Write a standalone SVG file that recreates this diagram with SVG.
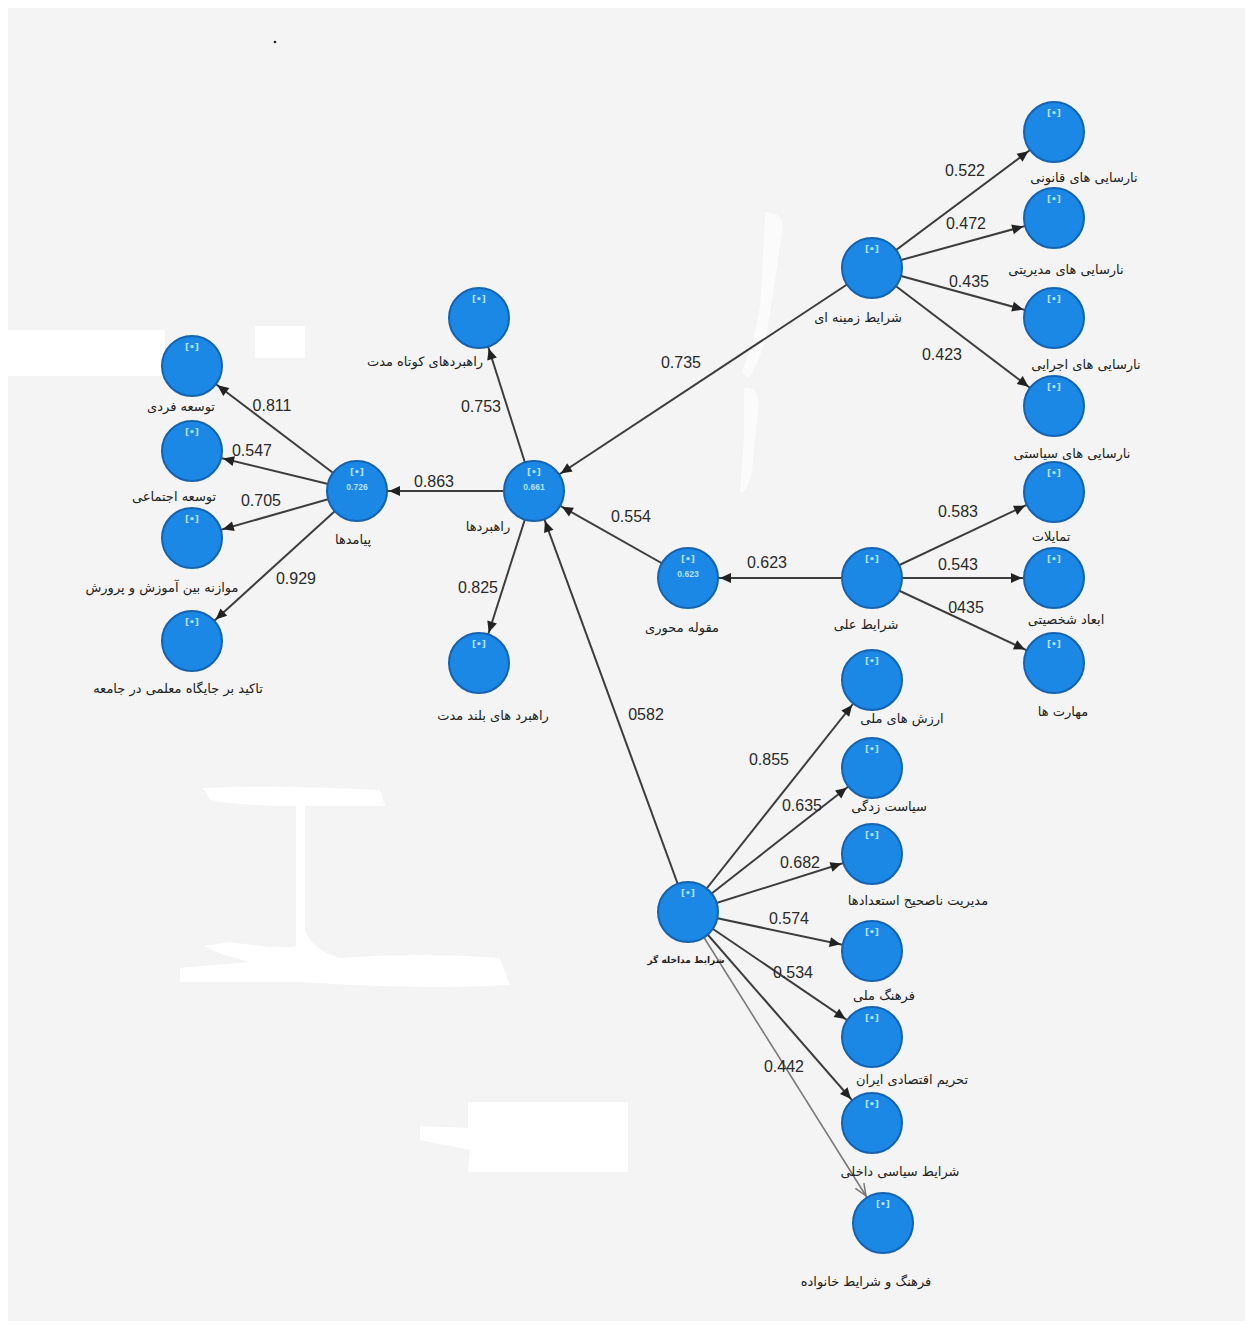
<svg xmlns="http://www.w3.org/2000/svg" width="1247" height="1326" viewBox="0 0 1247 1326">
<style>
.bg{fill:#f4f4f4}
.wb{fill:#ffffff}
.ws{fill:#fbfbfb}
.edge{stroke:#3d3d3d;stroke-width:2;fill:none;marker-end:url(#ah)}
.edge2{stroke:#7a7a7a;stroke-width:1.6;fill:none;marker-end:url(#ah2)}
.node circle{fill:#1c88e6;stroke:#1462b0;stroke-width:2}
.tag{font-family:"DejaVu Sans",sans-serif;font-size:9px;fill:#b5e2ff;text-anchor:middle;font-weight:bold}
.val{font-family:"Liberation Sans",sans-serif;font-size:8.5px;fill:#b5e2ff;text-anchor:middle;font-weight:bold}
.lbl{font-family:"DejaVu Sans","Liberation Sans",sans-serif;font-size:13px;fill:#222;text-anchor:middle}
.lbls{font-family:"DejaVu Sans","Liberation Sans",sans-serif;font-size:9px;fill:#222;text-anchor:middle;font-weight:bold}
.num{font-family:"Liberation Sans",Arial,sans-serif;font-size:16px;fill:#2a2a2a;text-anchor:middle}
</style>
<defs>
<marker id="ah" markerUnits="userSpaceOnUse" markerWidth="80" markerHeight="12" refX="73" refY="6" orient="auto" overflow="visible">
<path d="M30,1 L41,6 L30,11 Z" fill="#222"/>
</marker>
<marker id="ah2" markerUnits="userSpaceOnUse" markerWidth="80" markerHeight="12" refX="73" refY="6" orient="auto" overflow="visible">
<path d="M29,1 L41,6 L29,11" fill="none" stroke="#777" stroke-width="1.5"/>
</marker>
</defs>
<rect width="1247" height="1326" fill="#ffffff"/>
<rect class="bg" x="8" y="8" width="1237" height="1313"/>
<g id="artifacts">
<rect class="wb" x="8" y="330" width="157" height="46"/>
<rect class="wb" x="255" y="326" width="50" height="32"/>
<path class="wb" d="M203,788 Q260,784 380,790 L385,806 L305,806 L305,930 Q312,950 340,958 Q420,952 500,958 L510,985 Q420,990 300,982 L180,982 L180,968 L250,962 Q220,955 204,946 L230,942 Q285,950 296,946 L296,806 Q240,806 210,800 Z"/>
<path class="wb" d="M468,1102 L628,1102 L628,1172 L468,1172 L470,1150 L420,1140 L420,1126 L468,1128 Z"/>
<path class="ws" d="M765,212 Q785,212 782,232 L772,300 Q764,360 748,378 L742,372 Q760,330 762,280 Z"/>
<path class="ws" d="M744,388 Q760,386 758,410 L752,470 Q747,495 740,492 L744,440 Z"/>
<circle cx="275" cy="42" r="1.3" fill="#222"/>
</g>
<g id="connectors">
<line class="edge" x1="872" y1="268" x2="1054" y2="132"/>
<line class="edge" x1="872" y1="268" x2="1054" y2="218"/>
<line class="edge" x1="872" y1="268" x2="1054" y2="318"/>
<line class="edge" x1="872" y1="268" x2="1054" y2="406"/>
<line class="edge" x1="872" y1="268" x2="534" y2="491"/>
<line class="edge" x1="534" y1="491" x2="479" y2="318"/>
<line class="edge" x1="534" y1="491" x2="479" y2="663"/>
<line class="edge" x1="534" y1="491" x2="357" y2="491"/>
<line class="edge" x1="688" y1="578" x2="534" y2="491"/>
<line class="edge" x1="872" y1="578" x2="688" y2="578"/>
<line class="edge" x1="872" y1="578" x2="1054" y2="492"/>
<line class="edge" x1="872" y1="578" x2="1054" y2="578"/>
<line class="edge" x1="872" y1="578" x2="1054" y2="663"/>
<line class="edge" x1="357" y1="491" x2="192" y2="366"/>
<line class="edge" x1="357" y1="491" x2="192" y2="451"/>
<line class="edge" x1="357" y1="491" x2="192" y2="538"/>
<line class="edge" x1="357" y1="491" x2="192" y2="641"/>
<line class="edge" x1="688" y1="912" x2="534" y2="491"/>
<line class="edge" x1="688" y1="912" x2="872" y2="680"/>
<line class="edge" x1="688" y1="912" x2="872" y2="768"/>
<line class="edge" x1="688" y1="912" x2="872" y2="854"/>
<line class="edge" x1="688" y1="912" x2="872" y2="951"/>
<line class="edge" x1="688" y1="912" x2="872" y2="1037"/>
<line class="edge" x1="688" y1="912" x2="872" y2="1123"/>
<line class="edge2" x1="688" y1="912" x2="883" y2="1223"/>
</g>
<g id="edge-labels">
<text class="num" x="965" y="176">0.522</text>
<text class="num" x="966" y="229">0.472</text>
<text class="num" x="969" y="287">0.435</text>
<text class="num" x="942" y="360">0.423</text>
<text class="num" x="681" y="368">0.735</text>
<text class="num" x="481" y="412">0.753</text>
<text class="num" x="434" y="487">0.863</text>
<text class="num" x="631" y="522">0.554</text>
<text class="num" x="478" y="593">0.825</text>
<text class="num" x="646" y="720">0582</text>
<text class="num" x="767" y="568">0.623</text>
<text class="num" x="958" y="517">0.583</text>
<text class="num" x="958" y="570">0.543</text>
<text class="num" x="966" y="613">0435</text>
<text class="num" x="272" y="411">0.811</text>
<text class="num" x="252" y="456">0.547</text>
<text class="num" x="261" y="506">0.705</text>
<text class="num" x="296" y="584">0.929</text>
<text class="num" x="769" y="765">0.855</text>
<text class="num" x="802" y="811">0.635</text>
<text class="num" x="800" y="868">0.682</text>
<text class="num" x="789" y="924">0.574</text>
<text class="num" x="793" y="978">0.534</text>
<text class="num" x="784" y="1072">0.442</text>
</g>
<g id="n-qanuni" class="node"><circle cx="1054" cy="132" r="30"/><text class="tag" x="1054" y="116">[•]</text><text class="lbl" x="1084" y="182">نارسایی های قانونی</text></g>
<g id="n-modiriyati" class="node"><circle cx="1054" cy="218" r="30"/><text class="tag" x="1054" y="202">[•]</text><text class="lbl" x="1066" y="274">نارسایی های مدیریتی</text></g>
<g id="n-ejraei" class="node"><circle cx="1054" cy="318" r="30"/><text class="tag" x="1054" y="302">[•]</text><text class="lbl" x="1086" y="369">نارسایی های اجرایی</text></g>
<g id="n-siasati" class="node"><circle cx="1054" cy="406" r="30"/><text class="tag" x="1054" y="390">[•]</text><text class="lbl" x="1072" y="458">نارسایی های سیاستی</text></g>
<g id="n-tamayolat" class="node"><circle cx="1054" cy="492" r="30"/><text class="tag" x="1054" y="476">[•]</text><text class="lbl" x="1051" y="541">تمایلات</text></g>
<g id="n-abad" class="node"><circle cx="1054" cy="578" r="30"/><text class="tag" x="1054" y="562">[•]</text><text class="lbl" x="1066" y="624">ابعاد شخصیتی</text></g>
<g id="n-maharat" class="node"><circle cx="1054" cy="663" r="30"/><text class="tag" x="1054" y="647">[•]</text><text class="lbl" x="1063" y="716">مهارت ها</text></g>
<g id="n-zamine" class="node"><circle cx="872" cy="268" r="30"/><text class="tag" x="872" y="252">[•]</text><text class="lbl" x="858" y="322">شرایط زمینه ای</text></g>
<g id="n-elli" class="node"><circle cx="872" cy="578" r="30"/><text class="tag" x="872" y="562">[•]</text><text class="lbl" x="866" y="629">شرایط علی</text></g>
<g id="n-mehvari" class="node"><circle cx="688" cy="578" r="30"/><text class="tag" x="688" y="562">[•]</text><text class="val" x="688" y="577">0.623</text><text class="lbl" x="682" y="632">مقوله محوری</text></g>
<g id="n-rahbordha" class="node"><circle cx="534" cy="491" r="30"/><text class="tag" x="534" y="475">[•]</text><text class="val" x="534" y="490">0.661</text><text class="lbl" x="488" y="531">راهبردها</text></g>
<g id="n-payamadha" class="node"><circle cx="357" cy="491" r="30"/><text class="tag" x="357" y="475">[•]</text><text class="val" x="357" y="490">0.726</text><text class="lbl" x="353" y="544">پیامدها</text></g>
<g id="n-kootah" class="node"><circle cx="479" cy="318" r="30"/><text class="tag" x="479" y="302">[•]</text><text class="lbl" x="425" y="366">راهبردهای کوتاه مدت</text></g>
<g id="n-boland" class="node"><circle cx="479" cy="663" r="30"/><text class="tag" x="479" y="647">[•]</text><text class="lbl" x="493" y="720">راهبرد های بلند مدت</text></g>
<g id="n-fardi" class="node"><circle cx="192" cy="366" r="30"/><text class="tag" x="192" y="350">[•]</text><text class="lbl" x="181" y="411">توسعه فردی</text></g>
<g id="n-ejtemaei" class="node"><circle cx="192" cy="451" r="30"/><text class="tag" x="192" y="435">[•]</text><text class="lbl" x="174" y="501">توسعه اجتماعی</text></g>
<g id="n-movazene" class="node"><circle cx="192" cy="538" r="30"/><text class="tag" x="192" y="522">[•]</text><text class="lbl" x="162" y="592">موازنه بین آموزش و پرورش</text></g>
<g id="n-takid" class="node"><circle cx="192" cy="641" r="30"/><text class="tag" x="192" y="625">[•]</text><text class="lbl" x="178" y="693">تاکید بر جایگاه معلمی در جامعه</text></g>
<g id="n-modakhele" class="node"><circle cx="688" cy="912" r="30"/><text class="tag" x="688" y="896">[•]</text><text class="lbls" x="686" y="963">شرایط مداخله گر</text></g>
<g id="n-arzesh" class="node"><circle cx="872" cy="680" r="30"/><text class="tag" x="872" y="664">[•]</text><text class="lbl" x="902" y="723">ارزش های ملی</text></g>
<g id="n-siasatzadegi" class="node"><circle cx="872" cy="768" r="30"/><text class="tag" x="872" y="752">[•]</text><text class="lbl" x="889" y="811">سیاست زدگی</text></g>
<g id="n-modiriat" class="node"><circle cx="872" cy="854" r="30"/><text class="tag" x="872" y="838">[•]</text><text class="lbl" x="918" y="905">مدیریت ناصحیح استعدادها</text></g>
<g id="n-farhangmelli" class="node"><circle cx="872" cy="951" r="30"/><text class="tag" x="872" y="935">[•]</text><text class="lbl" x="884" y="1000">فرهنگ ملی</text></g>
<g id="n-tahrim" class="node"><circle cx="872" cy="1037" r="30"/><text class="tag" x="872" y="1021">[•]</text><text class="lbl" x="912" y="1084">تحریم اقتصادی ایران</text></g>
<g id="n-siasidakheli" class="node"><circle cx="872" cy="1123" r="30"/><text class="tag" x="872" y="1107">[•]</text><text class="lbl" x="900" y="1176">شرایط سیاسی داخلی</text></g>
<g id="n-khanevade" class="node"><circle cx="883" cy="1223" r="30"/><text class="tag" x="883" y="1207">[•]</text><text class="lbl" x="866" y="1286">فرهنگ و شرایط خانواده</text></g>
</svg>
